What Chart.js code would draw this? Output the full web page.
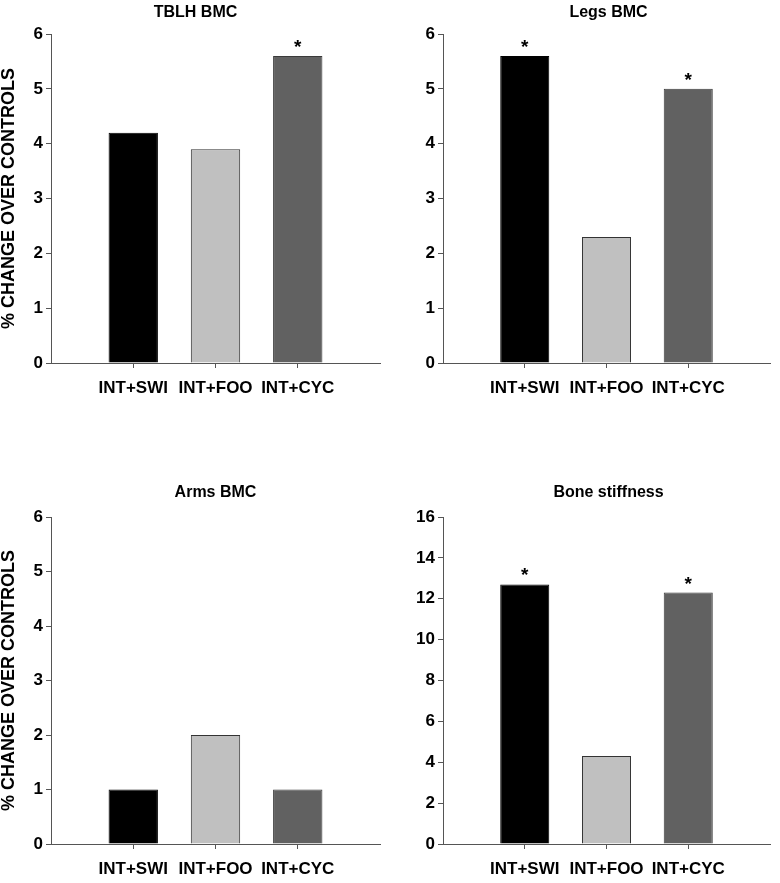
<!DOCTYPE html>
<html>
<head>
<meta charset="utf-8">
<script src="https://cdn.jsdelivr.net/npm/chart.js@4.4.1/dist/chart.umd.min.js"></script>
<style>
  html, body { margin: 0; padding: 0; background: #fff; }
  body { width: 780px; height: 883px; position: relative; overflow: hidden; }
  .panel { position: absolute; width: 390px; }
  .panel canvas { display: block; }
</style>
</head>
<body>
<div class="panel" style="left:0;top:0;height:420px"><canvas id="tblh"></canvas></div>
<div class="panel" style="left:390px;top:0;height:420px"><canvas id="legs"></canvas></div>
<div class="panel" style="left:0;top:460px;height:423px"><canvas id="arms"></canvas></div>
<div class="panel" style="left:390px;top:460px;height:423px"><canvas id="stiff"></canvas></div>

<script>
// groups shown on every panel
const categories = ['INT+SWI', 'INT+FOO', 'INT+CYC'];

// % change over controls
const tblhValues = [4.2, 3.9, 5.6];
const legsValues = [5.6, 2.3, 5.0];
const armsValues = [1.0, 2.0, 1.0];
const stiffnessValues = [12.7, 4.3, 12.3];

// significance markers (*)
const tblhStars = [false, false, true];
const legsStars = [true, false, true];
const armsStars = [false, false, false];
const stiffnessStars = [true, false, true];

// y ticks
const bmcTicks = { max: 6, step: 1 };
const stiffnessTicks = { max: 16, step: 2 };

const barColors = ['#000000', '#c0c0c0', '#616161'];
const barBorders = ['#000000', '#333333', '#3a3a3a'];

Chart.defaults.font.family = "'Liberation Sans', Arial, sans-serif";
Chart.defaults.color = '#000';

const axisColor = '#555';

// draws the panel title and the asterisks above bars
const extrasPlugin = {
  id: 'extras',
  afterDatasetsDraw(chart, args, opts) {
    const ctx = chart.ctx;
    ctx.save();
    ctx.fillStyle = '#000';
    ctx.font = "bold 16px 'Liberation Sans', Arial, sans-serif";
    ctx.textAlign = 'center';
    ctx.textBaseline = 'middle';
    const ca = chart.chartArea;
    ctx.fillText(opts.title, (ca.left + ca.right) / 2 + (opts.titleDx || 0), opts.titleY);

    const meta = chart.getDatasetMeta(0);
    ctx.font = "bold 19px 'Liberation Sans', Arial, sans-serif";
    ctx.textBaseline = 'alphabetic';
    opts.stars.forEach((s, i) => {
      if (!s) return;
      const bar = meta.data[i + 1];
      ctx.fillText('*', bar.x, bar.y - 3);
    });
    ctx.restore();
  }
};

function makePanel(id, title, values, stars, ticks, opt) {
  const labels = [''].concat(categories, ['']);
  const data = [null].concat(values, [null]);

  return new Chart(document.getElementById(id), {
    type: 'bar',
    data: {
      labels: labels,
      datasets: [{
        data: data,
        backgroundColor: ['transparent'].concat(barColors, ['transparent']),
        borderColor: ['transparent'].concat(barBorders, ['transparent']),
        borderWidth: 1,
        borderSkipped: 'bottom',
        barPercentage: 0.6,
        categoryPercentage: 1
      }]
    },
    options: {
      responsive: true,
      maintainAspectRatio: false,
      animation: false,
      events: [],
      layout: {
        padding: { top: opt.padTop, right: opt.padRight, bottom: opt.padBottom, left: 0 }
      },
      plugins: {
        legend: { display: false },
        tooltip: { enabled: false },
        extras: { title: title, titleY: opt.titleY, titleDx: opt.titleDx, stars: stars }
      },
      scales: {
        x: {
          offset: false,
          grid: {
            offset: false,
            drawOnChartArea: false,
            drawTicks: true,
            tickLength: 5,
            tickColor: c => (c.index === 0 || c.index === labels.length - 1) ? 'transparent' : axisColor
          },
          border: { color: axisColor, width: 1 },
          ticks: {
            autoSkip: false,
            maxRotation: 0,
            padding: 10,
            color: '#000',
            font: { size: 17, weight: 'bold' }
          },
          afterFit: s => { s.height = 39; }
        },
        y: {
          min: 0,
          max: ticks.max,
          grid: {
            drawOnChartArea: false,
            drawTicks: true,
            tickLength: 5,
            tickColor: axisColor
          },
          border: { color: axisColor, width: 1 },
          ticks: {
            stepSize: ticks.step,
            padding: 3,
            color: '#000',
            font: { size: 17, weight: 'bold' }
          },
          title: {
            display: opt.yTitle,
            text: '% CHANGE OVER CONTROLS',
            color: '#000',
            padding: 0,
            font: { size: 18, weight: 'bold', lineHeight: 1 }
          },
          afterFit: s => { s.width = opt.axisX; }
        }
      }
    },
    plugins: [extrasPlugin]
  });
}

makePanel('tblh', 'TBLH BMC', tblhValues, tblhStars, bmcTicks,
  { padTop: 34, padRight: 3, padBottom: 18, axisX: 51, yTitle: true, titleY: 13, titleDx: -20 });
makePanel('legs', 'Legs BMC', legsValues, legsStars, bmcTicks,
  { padTop: 34, padRight: 2, padBottom: 18, axisX: 53, yTitle: false, titleY: 13, titleDx: 2 });
makePanel('arms', 'Arms BMC', armsValues, armsStars, bmcTicks,
  { padTop: 57, padRight: 3, padBottom: 0, axisX: 51, yTitle: true, titleY: 33, titleDx: 0 });
makePanel('stiff', 'Bone stiffness', stiffnessValues, stiffnessStars, stiffnessTicks,
  { padTop: 57, padRight: 2, padBottom: 0, axisX: 53, yTitle: false, titleY: 33, titleDx: 2 });
</script>
</body>
</html>
